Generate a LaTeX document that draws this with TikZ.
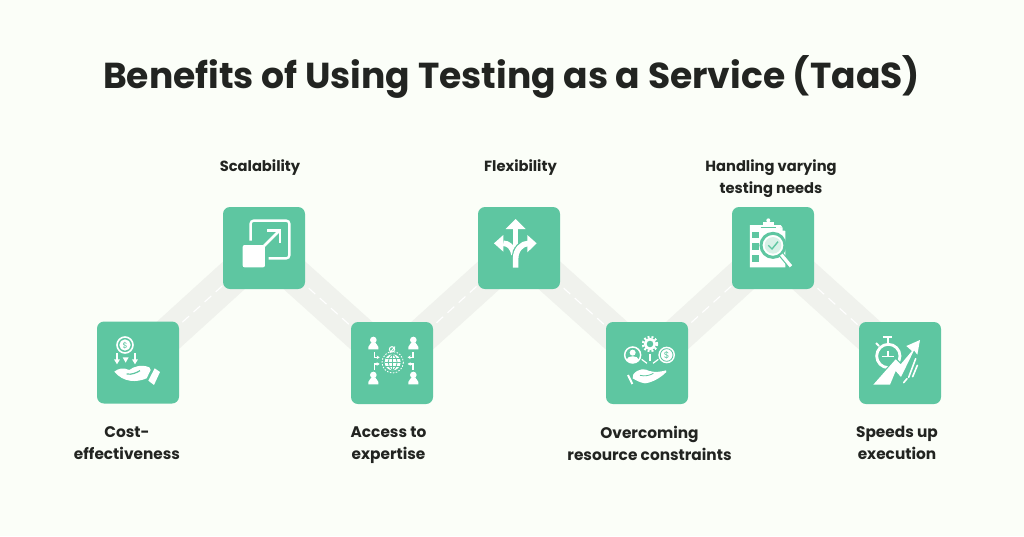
\documentclass[tikz,border=0pt]{standalone}
\usepackage{fontspec}
\setmainfont{Poppins}
\usetikzlibrary{backgrounds, arrows.meta}

\definecolor{pagebg}{HTML}{FBFEF8}
\definecolor{boxgreen}{HTML}{5EC6A1}
\definecolor{roadgray}{HTML}{F0F2ED}
\definecolor{inkdark}{HTML}{222421}
\definecolor{lensmint}{HTML}{D8F1E7}

\tikzset{
  iconbox/.style={fill=boxgreen, rounded corners=7, minimum size=82, inner sep=0},
  label/.style={align=center, text=inkdark, font=\fontsize{14.7}{22}\selectfont\bfseries},
  lowlabel/.style={align=center, text=inkdark, font=\fontsize{15.35}{22}\selectfont\bfseries},
  roadband/.style={draw=roadgray, line width=35},
  roaddash/.style={draw=white, line width=1.1, dash pattern=on 9 off 6},
  zoomed/.style={x=0.3333pt, y=-0.3333pt},
  iconline/.style={draw=white, line width=#1},
  iconline/.default=2.2,
  holeline/.style={draw=boxgreen, line width=#1},
  holeline/.default=1.2,
  hook/.style={draw=white, line width=1.2, -{Stealth[length=3, width=3.6]}},
  person/.pic={
    \fill[white] (0, -10) circle (10);
    \fill[white] (-15, 18) -- (-15, 11) .. controls (-15, 3) and (-6, 4) .. (-6, -2) -- (6, -2) .. controls (6, 4) and (15, 3) .. (15, 11) -- (15, 18) -- cycle;
  }
}

\begin{document}
\begin{tikzpicture}[x=1pt, y=-1pt]
\useasboundingbox (0, 0) rectangle (1024, 536);

\node[inner sep=0, text=inkdark, font=\fontsize{36.1}{40}\selectfont\bfseries] (title) at (511.5, 77) {Benefits of Using Testing as a Service (TaaS)};

\node[iconbox] (cost) at (138, 362.5) {};
\node[iconbox] (scale) at (264, 248) {};
\node[iconbox] (access) at (392, 363) {};
\node[iconbox] (flex) at (519, 248) {};
\node[iconbox] (overcome) at (647, 363) {};
\node[iconbox] (handle) at (773, 248) {};
\node[iconbox] (speed) at (900, 363) {};

\begin{pgfonlayer}{background}
\fill[pagebg] (0, 0) rectangle (1024, 536);
\draw[roadband] (cost.center) -- (scale.center);
\draw[roadband] (scale.center) -- (access.center);
\draw[roadband] (access.center) -- (flex.center);
\draw[roadband] (flex.center) -- (overcome.center);
\draw[roadband] (overcome.center) -- (handle.center);
\draw[roadband] (handle.center) -- (speed.center);
\draw[roaddash] (cost.center) -- (scale.center);
\draw[roaddash] (scale.center) -- (access.center);
\draw[roaddash] (access.center) -- (flex.center);
\draw[roaddash] (flex.center) -- (overcome.center);
\draw[roaddash] (overcome.center) -- (handle.center);
\draw[roaddash] (handle.center) -- (speed.center);
\end{pgfonlayer}

\node[lowlabel] (lcost) at (127, 443) {Cost-\\effectiveness};
\node[label] (lscale) at (260, 168) {Scalability};
\node[lowlabel] (laccess) at (388.5, 445) {Access to\\expertise};
\node[label] (lflex) at (520.5, 168) {Flexibility};
\node[lowlabel] (lover) at (649.5, 443) {Overcoming\\resource constraints};
\node[label] (lhandle) at (771, 179) {Handling varying\\testing needs};
\node[lowlabel] (lspeed) at (897, 443) {Speeds up\\execution};

% coins and hand
\begin{scope}[shift={(80, 190)}, zoomed]
\draw[iconline=1.6] (135, 465) circle (24);
\fill[white] (135, 465) circle (17);
\node[inner sep=0, text=boxgreen, font=\fontsize{8}{8}\selectfont] (costsign) at (135, 466) {\$};
\draw[iconline=1.6] (111, 490) -- (111, 510);
\draw[iconline=1.6] (165, 490) -- (165, 510);
\fill[white] (102, 508) -- (120, 508) -- (111, 523) -- cycle;
\fill[white] (156, 508) -- (174, 508) -- (165, 523) -- cycle;
\fill[white] (128, 502) -- (146, 502) -- (137, 518) -- cycle;
\fill[white] (103, 545) .. controls (115, 535) and (130, 532) .. (148, 540) .. controls (160, 530) and (185, 522) .. (208, 532) -- (212, 540) -- (200, 565) .. controls (170, 578) and (130, 578) .. (103, 545) -- cycle;
\fill[white] (205, 572) -- (222, 585) -- (240, 546) -- (224, 535) -- cycle;
\draw[holeline] (140, 552) .. controls (155, 555) and (170, 548) .. (180, 542);
\end{scope}

% square with outward arrow
\begin{scope}[shift={(80, 190)}, zoomed]
\draw[iconline=2.4, rounded corners=3] (512, 152) -- (512, 92) -- (628, 92) -- (628, 205) -- (566, 205);
\fill[white, rounded corners=2] (488, 165) rectangle (555, 232);
\draw[iconline=2.6] (552, 168) -- (598, 122);
\draw[iconline=2.6] (562, 122) -- (600, 122) -- (600, 158);
\end{scope}

% people round a globe
\begin{scope}[shift={(340, 190)}, zoomed]
\path (100, 460) pic {person};
\path (220, 460) pic {person};
\path (100, 565) pic {person};
\path (220, 565) pic {person};
\fill[white] (158, 517) circle (24);
\draw[holeline=0.8] (158, 493) -- (158, 541);
\draw[holeline=0.8] (134, 517) -- (182, 517);
\draw[holeline=0.8] (137, 505) -- (179, 505);
\draw[holeline=0.8] (137, 529) -- (179, 529);
\draw[holeline=0.8] (158, 493) .. controls (140, 505) and (140, 529) .. (158, 541);
\draw[holeline=0.8] (158, 493) .. controls (176, 505) and (176, 529) .. (158, 541);
\draw[iconline=0.9, dash pattern=on 1.5 off 1.5] (158, 517) circle (32);
\draw[iconline=1] (156, 478) circle (8);
\draw[iconline=1] (165, 470) -- (150, 488);
\draw[hook] (103, 486) -- (103, 502) -- (119, 502);
\draw[hook] (219, 486) -- (219, 502) -- (203, 502);
\draw[hook] (103, 540) -- (103, 522) -- (119, 522);
\draw[hook] (219, 540) -- (219, 522) -- (203, 522);
\end{scope}

% three way arrow
\begin{scope}[shift={(340, 190)}, zoomed]
\draw[iconline=5.6] (490, 160) .. controls (505, 160) and (518, 170) .. (522, 194);
\draw[iconline=5.6] (527, 172) -- (527, 112);
\draw[holeline=7.8] (527, 200) .. controls (527, 180) and (545, 160) .. (566, 160);
\draw[iconline=5.6] (527, 233) -- (527, 205) .. controls (527, 180) and (545, 160) .. (566, 160);
\fill[white] (527, 87) -- (557, 117) -- (497, 117) -- cycle;
\fill[white] (462, 160) -- (490, 135) -- (490, 185) -- cycle;
\fill[white] (590, 160) -- (562, 135) -- (562, 187) -- cycle;
\end{scope}

% gear, person, dollar over hand
\begin{scope}[shift={(590, 190)}, zoomed]
\draw[draw=white, line width=2.4, dash pattern=on 1.9 off 1.9] (180, 462) circle (21);
\draw[iconline=2.6] (180, 462) circle (14.5);
\draw[iconline=1.5] (128, 495) circle (24);
\fill[white] (128, 488) circle (9);
\fill[white] (109, 510) .. controls (112, 495) and (144, 495) .. (147, 510) .. controls (138, 520) and (118, 520) .. (109, 510) -- cycle;
\fill[white] (230, 495) circle (25);
\draw[holeline=0.8] (230, 495) circle (19);
\node[inner sep=0, text=boxgreen, font=\fontsize{9}{9}\selectfont] (oversign) at (230, 496) {\$};
\draw[iconline=1.2] (180, 492) -- (180, 512);
\draw[iconline=1.2] (155, 508) -- (171, 520);
\draw[iconline=1.2] (205, 508) -- (189, 520);
\fill[white] (130, 553) .. controls (145, 535) and (165, 535) .. (178, 543) .. controls (195, 548) and (215, 545) .. (228, 541) -- (229, 546) .. controls (210, 565) and (185, 578) .. (165, 580) .. controls (150, 578) and (140, 572) .. (128, 565) -- cycle;
\draw[iconline=2] (114, 555) -- (127, 582);
\draw[holeline=0.8] (150, 556) .. controls (165, 560) and (180, 556) .. (190, 550);
\end{scope}

% clipboard and magnifier
\begin{scope}[shift={(590, 190)}, zoomed]
\fill[white] (480, 105) -- (572, 105) -- (586, 124) -- (586, 232) -- (480, 232) -- cycle;
\fill[boxgreen] (570, 112) -- (578, 112) -- (578, 122) -- (586, 122) -- (586, 112) -- cycle;
\fill[white] (519, 96) rectangle (551, 110);
\fill[white] (535, 91) circle (6);
\draw[holeline=1] (512, 112) -- (558, 112);
\fill[boxgreen] (487, 125) rectangle (507, 145);
\fill[boxgreen] (487, 160) rectangle (507, 180);
\fill[boxgreen] (487, 195) rectangle (507, 215);
\draw[fill=white, draw=boxgreen, line width=3] (549, 166) circle (36);
\fill[lensmint] (549, 166) circle (25);
\draw[holeline=1.4] (535, 166) -- (546, 177) -- (564, 155);
\draw[holeline=5.5] (572, 192) -- (603, 229);
\draw[iconline=3.2] (574, 194) -- (603, 229);
\end{scope}

% stopwatch and rising arrow
\begin{scope}[shift={(800, 280)}, zoomed]
\draw[iconline=2.8] (265, 228) circle (35);
\draw[iconline=2.2] (250, 171) -- (276, 171);
\draw[iconline=2.2] (263, 171) -- (263, 192);
\draw[iconline=1.6] (264, 212) -- (264, 229) -- (245, 229);
\draw[iconline=1.6] (264, 229) -- (282, 229);
\draw[iconline=1.8] (228, 189) -- (237, 198);
\draw[fill=boxgreen, draw=boxgreen, line width=2.4] (220, 314) -- (287, 238) -- (302, 253) -- (336, 213) -- (319, 198) -- (360, 180) -- (352, 224) -- (342, 211) -- (303, 291) -- (287, 273) -- (270, 314) -- cycle;
\fill[white] (220, 314) -- (287, 238) -- (302, 253) -- (336, 213) -- (319, 198) -- (360, 180) -- (352, 224) -- (342, 211) -- (303, 291) -- (287, 273) -- (270, 314) -- cycle;
\draw[iconline=1.6, line cap=round] (347, 236) -- (326, 292);
\draw[iconline=1.6, line cap=round] (352, 256) -- (338, 290);
\draw[iconline=1.6, line cap=round] (321, 296) -- (311, 308);
\end{scope}
\end{tikzpicture}
\end{document}
